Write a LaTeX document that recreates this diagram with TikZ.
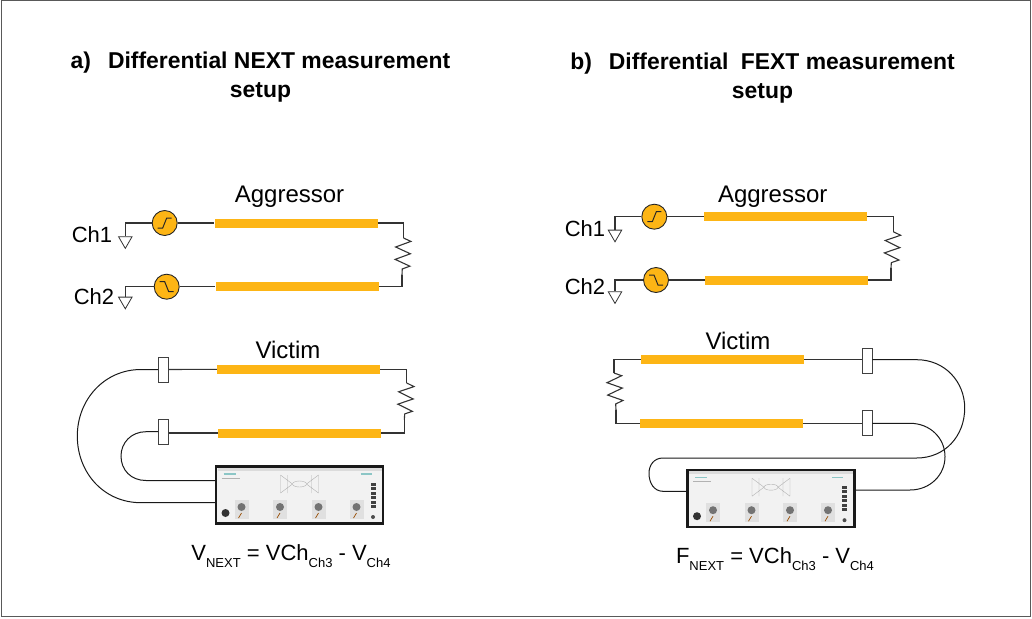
\documentclass[tikz,border=0pt]{standalone}
\usepackage{fontspec}
\setmainfont{Liberation Sans}
\usetikzlibrary{shapes.geometric,decorations.pathmorphing}

\newcommand{\subtxt}[1]{\raisebox{-.33em}{\fontsize{13}{13}\selectfont #1}}
\definecolor{traceGold}{HTML}{FDB515}

\tikzset{
    wire/.style={line width=1.1pt, color=black!80},
    cable/.style={line width=1pt, color=black!90},
    resist/.style={wire, decorate, decoration={zigzag, segment length=12.4pt, amplitude=7.5pt}},
    trace/.style={fill=traceGold, inner sep=0pt, minimum width=163pt, minimum height=9pt},
    srcnode/.style={circle, draw=black!85, fill=traceGold, line width=.9pt, inner sep=0pt, minimum size=25pt},
    stepup/.style={srcnode, path picture={\draw[line width=1pt] (path picture bounding box.center)
        ++(-7,5) -- ++(5,0) -- ++(4,-10) -- ++(5,0);}},
    stepdown/.style={srcnode, path picture={\draw[line width=1pt] (path picture bounding box.center)
        ++(-7,-5) -- ++(5,0) -- ++(4,10) -- ++(5,0);}},
    gnd/.style={regular polygon, regular polygon sides=3, shape border rotate=180, draw=black!80,
        fill=white, line width=.8pt, inner sep=0pt, minimum size=15.6pt},
    plug/.style={rectangle, draw=black!75, fill=white, line width=.9pt, inner sep=0pt, minimum width=10pt, minimum height=25pt},
    lbl/.style={inner sep=0pt, font=\fontsize{24}{24}\selectfont},
    chlbl/.style={inner sep=0pt, font=\fontsize{22}{22}\selectfont},
    eqlbl/.style={inner sep=0pt, font=\fontsize{22}{22}\selectfont},
    ttl/.style={inner sep=0pt, align=center, font=\fontsize{22.9}{29}\selectfont\bfseries},
    inst/.style={rectangle, draw=black!90, fill=black!5, line width=2.4pt, inner sep=0pt, minimum width=167pt, minimum height=57pt},
    instface/.pic={
        \fill[black!14] (-82,-27) rectangle (82,-24);
        \draw[teal!45, line width=1.2pt] (-76,-21) -- (-64,-21) (61,-21) -- (72,-21);
        \draw[black!30, line width=.6pt] (-78,-17) -- (-60,-17);
        % lattice in the middle
        \draw[black!30, line width=.4pt] (0,-11) ellipse (7 and 3);
        \foreach \sx in {-1,1} {
            \draw[black!30, line width=.4pt] (\sx*7,-11) -- (\sx*19,-20) (\sx*7,-11) -- (\sx*19,-2)
                (\sx*19,-20) -- (\sx*19,-2) (\sx*12,-20) -- (\sx*12,-2);
        }
        \foreach \px in {-58,-19.5,19,57} {
            \fill[black!12] (\px-7,5) rectangle (\px+7,24);
            \fill[black!55] (\px,12) circle (4);
            \draw[orange!60!black, line width=.7pt] (\px-3,23) -- (\px,18);
        }
        \fill[black!80] (-74,18) circle (4);
        \foreach \ly in {-11,-6.5,-2,2.5,7,11.5} {
            \fill[black!75] (71,\ly-1.5) rectangle (76,\ly+1.5);
        }
        \fill[black!70] (73.5,22) circle (2);
    }
}

\begin{document}
\begin{tikzpicture}[x=1pt,y=-1pt]
    \useasboundingbox (0,0) rectangle (1032,618);
    \draw[black!65, line width=1pt] (1,1) rectangle (1030,616);

    \node[ttl] (titlea) at (260.5,77) {a)\hspace{17pt}Differential NEXT measurement\\setup};
    \node[ttl] (titleb) at (762.5,78) {b)\hspace{17pt}Differential\hspace{6pt} FEXT measurement\\setup};

    % panel a, aggressor
    \node[lbl] (aggra) at (289.5,197) {Aggressor};
    \node[trace] (tra1) at (296,223) {};
    \node[trace] (tra2) at (297,286.7) {};
    \node[stepup] (srca1) at (164.7,223) {};
    \node[stepdown] (srca2) at (166.7,286.7) {};
    \node[gnd] (gnda1) at (125.3,240.6) {};
    \node[gnd] (gnda2) at (125.3,301) {};
    \node[chlbl] (cha1) at (92,235) {Ch1};
    \node[chlbl] (cha2) at (94,296.5) {Ch2};
    \coordinate (ra1t) at (403.5,238);
    \coordinate (ra1b) at (402,275);
    \draw[wire] (srca1.west) -| (gnda1.north);
    \draw[wire] (srca2.west) -| (gnda2.north);
    \draw[wire] (srca1.east) -- (tra1.west);
    \draw[wire] (srca2.east) -- (tra2.west);
    \draw[wire] (tra1.east) -| (ra1t);
    \draw[resist] (ra1t) -- (ra1b);
    \draw[wire] (ra1b) |- (tra2.east);

    % panel a, victim
    \node[lbl] (vica) at (288,350) {Victim};
    \node[trace] (tra3) at (298.5,369.3) {};
    \node[trace] (tra4) at (299.5,433) {};
    \node[plug] (pla1) at (163.5,369.5) {};
    \node[plug] (pla2) at (163.5,431.7) {};
    \coordinate (ra2t) at (406.7,383);
    \coordinate (ra2b) at (404.3,420);
    \draw[wire] (pla1.east) -- (tra3.west);
    \draw[wire] (pla2.east |- tra4.west) -- (tra4.west);
    \draw[wire] (tra3.east) -| (ra2t);
    \draw[resist] (ra2t) -- (ra2b);
    \draw[wire] (ra2b) |- (tra4.east);
    \node[inst] (insta) at (299.5,495) {};
    \pic at (insta.center) {instface};
    \coordinate (porta1) at (215,502.7);
    \coordinate (porta2) at (215,480.5);
    \draw[cable] (pla1.west) -- (141,369.5) .. controls (104,369.5) and (77.3,400) .. (77.3,436)
        .. controls (77.3,473) and (104,502.7) .. (141,502.7) -- (porta1);
    \draw[cable] (pla2.west) -- (146,431.7) .. controls (131,431.7) and (121,443) .. (121,456)
        .. controls (121,470) and (131,480.5) .. (146,480.5) -- (porta2);
    \node[eqlbl] (eqa) at (291,556) {V\subtxt{NEXT} = VCh\subtxt{Ch3} - V\subtxt{Ch4}};

    % panel b, aggressor
    \node[lbl] (aggrb) at (772.7,197) {Aggressor};
    \node[trace] (trb1) at (785.3,216.7) {};
    \node[trace] (trb2) at (786.5,280) {};
    \node[stepup] (srcb1) at (654.3,216.7) {};
    \node[stepdown] (srcb2) at (656,280) {};
    \node[gnd] (gndb1) at (615,234) {};
    \node[gnd] (gndb2) at (615,295.6) {};
    \node[chlbl] (chb1) at (585,229) {Ch1};
    \node[chlbl] (chb2) at (585,287) {Ch2};
    \coordinate (rb1t) at (893.3,231.7);
    \coordinate (rb1b) at (891,268);
    \draw[wire] (srcb1.west) -| (gndb1.north);
    \draw[wire] (srcb2.west) -| (gndb2.north);
    \draw[wire] (srcb1.east) -- (trb1.west);
    \draw[wire] (srcb2.east) -- (trb2.west);
    \draw[wire] (trb1.east) -| (rb1t);
    \draw[resist] (rb1t) -- (rb1b);
    \draw[wire] (rb1b) |- (trb2.east);

    % panel b, victim
    \node[lbl] (vicb) at (738,341) {Victim};
    \node[trace] (trb3) at (722.5,359.7) {};
    \node[trace] (trb4) at (721.5,423.3) {};
    \node[plug] (plb1) at (867,361) {};
    \node[plug] (plb2) at (867,423) {};
    \coordinate (rb2t) at (614,373);
    \coordinate (rb2b) at (616,410);
    \draw[wire] (plb1.west |- trb3.east) -- (trb3.east);
    \draw[wire] (plb2.west |- trb4.east) -- (trb4.east);
    \draw[wire] (trb3.west) -| (rb2t);
    \draw[resist] (rb2t) -- (rb2b);
    \draw[wire] (rb2b) |- (trb4.west);
    \node[inst] (instb) at (771,498.2) {};
    \pic at (instb.center) {instface};
    \coordinate (portb1) at (686.7,491.3);
    \coordinate (portb2) at (855,490);
    \draw[cable] (plb1.east |- trb3.east) -- (916.7,359.7) .. controls (945,359.7) and (964.7,382) .. (964.7,408)
        .. controls (964.7,436) and (945,458) .. (916.7,458) -- (663,458)
        .. controls (654,458) and (649,465) .. (649,473.3)
        .. controls (649,483) and (654,491.3) .. (663,491.3) -- (portb1);
    \draw[cable] (plb2.east |- trb4.east) -- (910,423.3) .. controls (930,423.3) and (945,438) .. (945,456.7)
        .. controls (945,475) and (930,490) .. (910,490) -- (portb2);
    \node[eqlbl] (eqb) at (775,559) {F\subtxt{NEXT} = VCh\subtxt{Ch3} - V\subtxt{Ch4}};
\end{tikzpicture}
\end{document}
